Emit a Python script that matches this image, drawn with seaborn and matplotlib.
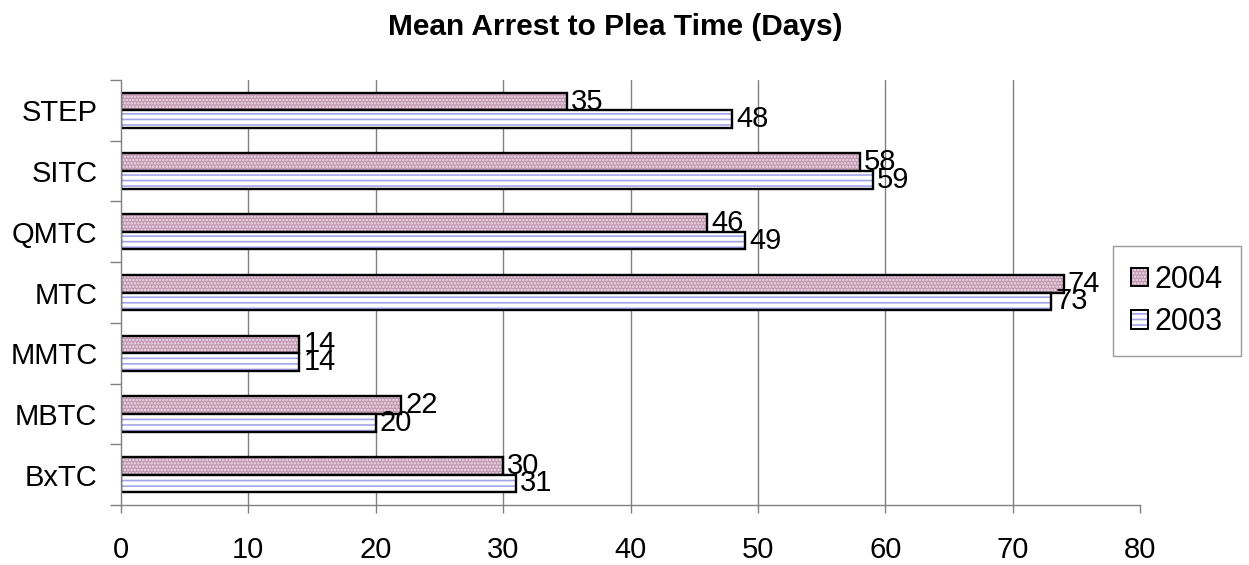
import numpy as np
import pandas as pd
import matplotlib
matplotlib.use("Agg")
import matplotlib.pyplot as plt
from matplotlib.patches import Patch
from matplotlib.colors import to_rgba
import seaborn as sns

categories = ["STEP", "SITC", "QMTC", "MTC", "MMTC", "MBTC", "BxTC"]
values_2004 = [35, 58, 46, 74, 14, 22, 30]
values_2003 = [48, 59, 49, 73, 14, 20, 31]
years = ["2004", "2003"]
x_ticks = [0, 10, 20, 30, 40, 50, 60, 70, 80]

df = pd.DataFrame({
    "court": categories * 2,
    "days": values_2004 + values_2003,
    "year": ["2004"] * len(categories) + ["2003"] * len(categories),
})

sns.set_style("white")
plt.rcParams["font.family"] = ["Liberation Sans", "DejaVu Sans"]
plt.rcParams["hatch.linewidth"] = 1.2
plt.rcParams["text.color"] = "black"
plt.rcParams["xtick.labelcolor"] = "black"
plt.rcParams["ytick.labelcolor"] = "black"

fig = plt.figure(figsize=(12.49, 5.65), dpi=100)
ax = fig.add_axes([121 / 1249, 1 - 505 / 565, (1140 - 121) / 1249, (505 - 80) / 565])

styles = {
    "2004": dict(face="#c096b1", hatch=".....", hcolor="#f2e0ea"),
    "2003": dict(face="#ffffff", hatch="---", hcolor="#a4a4ec"),
}

sns.barplot(data=df, x="days", y="court", hue="year", order=categories,
            hue_order=years, orient="h", width=0.58, ax=ax, legend=False,
            palette={y: styles[y]["face"] for y in years}, saturation=1)

for cont, yr in zip(ax.containers, years):
    st = styles[yr]
    for p in cont:
        p.set_facecolor(st["face"])
        p.set_edgecolor("black")
        p.set_linewidth(1.7)
        p.set_hatch(st["hatch"])
        p._hatch_color = to_rgba(st["hcolor"])
    ax.bar_label(cont, labels=[str(int(round(v))) for v in cont.datavalues],
                 padding=3, fontsize=21, color="black")

ax.set_xlim(0, 80)
ax.set_xticks(x_ticks)
ax.set_xticklabels([str(t) for t in x_ticks])
ax.set_xlabel("")
ax.set_ylabel("")
ax.grid(axis="x", color="#808080", linewidth=1.0)
ax.set_axisbelow(True)
ax.xaxis.get_gridlines()[-1].set_visible(False)
ax.xaxis.get_gridlines()[0].set_visible(False)

ax.set_yticks(np.arange(-0.5, len(categories), 1.0), minor=True)
ax.tick_params(axis="y", which="major", length=0, pad=17, labelsize=21)
ax.tick_params(axis="y", which="minor", length=8, width=1, color="#808080", left=True)
ax.tick_params(axis="x", which="major", length=6, width=1, color="#808080",
               pad=16, labelsize=21, bottom=True)

for s in ["top", "right"]:
    ax.spines[s].set_visible(False)
for s in ["left", "bottom"]:
    ax.spines[s].set_color("#808080")
    ax.spines[s].set_linewidth(1.0)

handles = []
for yr in years:
    st = styles[yr]
    h = Patch(facecolor=st["face"], edgecolor="black", linewidth=1.4, hatch=st["hatch"], label=yr)
    h._hatch_color = to_rgba(st["hcolor"])
    handles.append(h)
leg = ax.legend(handles=handles, loc="center left",
                bbox_to_anchor=(1113 / 1249, 1 - 301 / 565), bbox_transform=fig.transFigure,
                fontsize=22, frameon=True, fancybox=False, edgecolor="#808080",
                handlelength=0.55, handleheight=0.55, handletextpad=0.2,
                labelspacing=0.42, borderpad=0.6, borderaxespad=0)
leg.get_frame().set_linewidth(1.0)

fig.text(615 / 1249, 1 - 27 / 565, "Mean Arrest to Plea Time (Days)", ha="center",
         va="center", fontsize=21.5, fontweight="bold", color="black")

fig.savefig("out.png", dpi=100)
